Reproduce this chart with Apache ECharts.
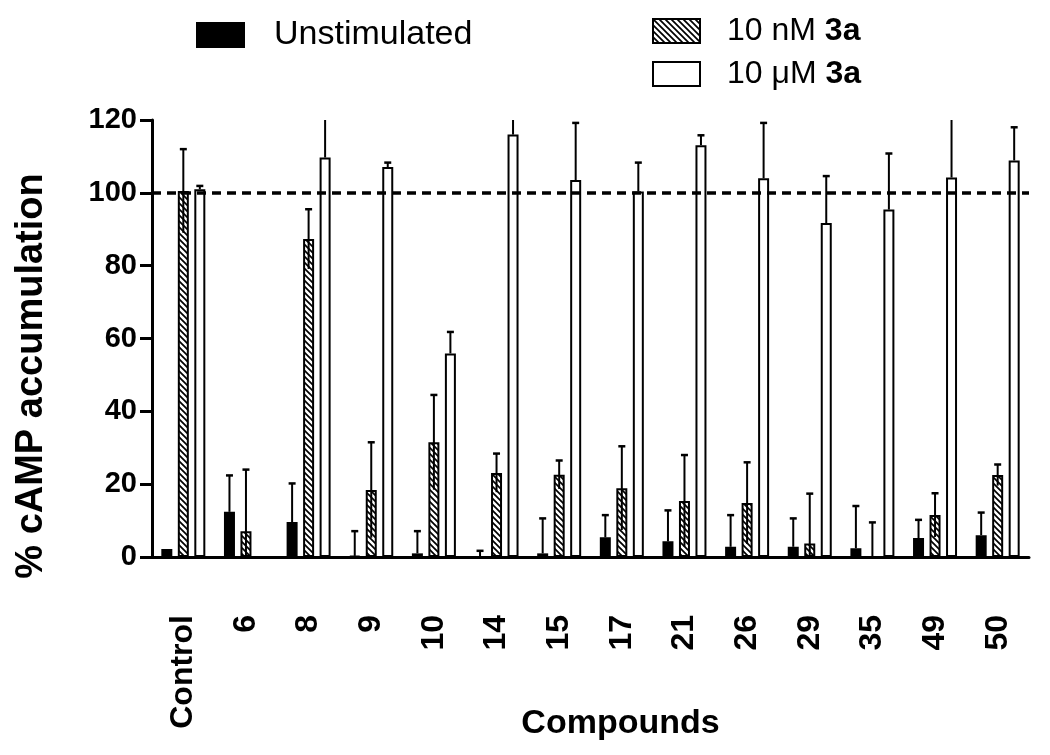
<!DOCTYPE html>
<html>
<head>
<meta charset="utf-8">
<script src="https://cdn.jsdelivr.net/npm/echarts@6/dist/echarts.min.js"></script>
<style>
html,body{margin:0;padding:0;background:#fff;}
#chart{width:1050px;height:755px;}
</style>
</head>
<body>
<div id="chart"></div>
<script>
// ---- data ----
const categories = ['Control','6','8','9','10','14','15','17','21','26','29','35','49','50'];
const unstimulated    = [2.2, 12.4, 9.6, 0.3, 1.0, 0, 1.0, 5.4, 4.3, 2.8, 2.8, 2.4, 5.2, 6.0];
const unstimulatedErr = [0, 10.0, 10.6, 6.8, 6.1, 1.7, 9.6, 6.1, 8.5, 8.7, 7.8, 11.6, 5.0, 6.2];
const nM10    = [100.5, 7.1, 87.3, 18.4, 31.5, 23.1, 22.6, 18.9, 15.4, 14.8, 3.7, 0, 11.5, 22.5];
const nM10Err = [11.5, 16.9, 8.2, 13.1, 13.0, 5.3, 3.9, 11.5, 12.6, 11.2, 13.7, 9.5, 6.0, 2.9];
const uM10    = [101.0, null, 109.7, 107.1, 55.9, 116.0, 103.5, 100.4, 113.1, 104.0, 91.7, 95.4, 104.2, 108.9];
const uM10Err = [0.9, null, 13, 1.2, 5.9, 9, 15.7, 7.9, 2.7, 15.2, 12.9, 15.4, 17, 9.1];
const referenceLevel = 100;
const yMin = 0, yMax = 120, yStep = 20;
const seriesNames = ['Unstimulated', '10 nM 3a', '10 μM 3a'];

// ---- hatch pattern ----
function hatch() {
  const s = 6;
  const c = document.createElement('canvas');
  c.width = s; c.height = s;
  const g = c.getContext('2d');
  g.fillStyle = '#fff'; g.fillRect(0, 0, s, s);
  g.strokeStyle = '#000'; g.lineWidth = 1.7;
  g.beginPath();
  g.moveTo(-s, 0); g.lineTo(s, 2 * s);
  g.moveTo(0, 0); g.lineTo(s, s);
  g.moveTo(0, -s); g.lineTo(2 * s, s);
  g.stroke();
  return { image: c, repeat: 'repeat' };
}

const FONT = 'Liberation Sans, Arial, Helvetica, sans-serif';
const BAR_W = 11, BAR_STEP = 16.5;

function errSeries(vals, errs, idx, both) {
  const data = [];
  vals.forEach((v, i) => { if (v !== null && errs[i]) data.push([i, v, errs[i]]); });
  return {
    type: 'custom', name: 'err' + idx, z: 5, clip: true, silent: true,
    data: data,
    renderItem: function (params, api) {
      const x = api.value(0), v = api.value(1), e = api.value(2);
      const top = api.coord([x, v + e]);
      const bot = api.coord([x, both ? v - e : v]);
      const cx = top[0] + (idx - 1) * BAR_STEP;
      return {
        type: 'group',
        children: [
          { type: 'line', shape: { x1: cx, y1: bot[1], x2: cx, y2: top[1] }, style: { stroke: '#000', lineWidth: 2 } },
          { type: 'line', shape: { x1: cx - 3.5, y1: top[1], x2: cx + 3.5, y2: top[1] }, style: { stroke: '#000', lineWidth: 2.5 } }
        ]
      };
    }
  };
}

function legendCfg(name, left, top, gap) {
  return {
    data: [{ name: name, icon: 'rect' }], left: left, top: top, padding: 0,
    itemWidth: 47, itemHeight: 24, itemGap: 0, selectedMode: false,
    formatter: function (n) {
      const m = n.match(/^(.*) (3a)$/);
      return m ? '{r|' + m[1] + ' }{b|' + m[2] + '}' : '{r|' + n + '}';
    },
    textStyle: {
      fontFamily: FONT, color: '#000', padding: [0, 0, 0, gap],
      rich: {
        r: { fontSize: name === 'Unstimulated' ? 34 : 32, fontFamily: FONT, color: '#000', lineHeight: 30 },
        b: { fontSize: 32, fontWeight: 'bold', fontFamily: FONT, color: '#000', lineHeight: 30 }
      }
    }
  };
}

const chart = echarts.init(document.getElementById('chart'));
chart.setOption({
  backgroundColor: '#fff',
  animation: false,
  legend: [
    legendCfg(seriesNames[0], 196, 18, 25),
    legendCfg(seriesNames[1], 652, 15, 22),
    legendCfg(seriesNames[2], 652, 58, 22)
  ],
  grid: { left: 152, right: 21, top: 120, bottom: 198, containLabel: false, outerBoundsMode: 'none' },
  xAxis: {
    type: 'category', data: categories,
    axisLine: { lineStyle: { color: '#000', width: 3 } },
    axisTick: { alignWithLabel: true, length: 12, lineStyle: { color: '#000', width: 3 } },
    axisLabel: { rotate: 90, margin: 58, color: '#000', fontSize: 32, fontWeight: 'bold', fontFamily: FONT, interval: 0 },
    name: 'Compounds', nameLocation: 'middle', nameGap: 150, nameMoveOverlap: false,
    nameTextStyle: { fontSize: 34, fontWeight: 'bold', color: '#000', fontFamily: FONT, padding: [0, 0, 0, 60] }
  },
  yAxis: {
    type: 'value', min: yMin, max: yMax, interval: yStep,
    axisLine: { show: true, lineStyle: { color: '#000', width: 3 } },
    axisTick: { show: true, length: 12, lineStyle: { color: '#000', width: 3 } },
    splitLine: { show: false },
    axisLabel: { margin: 15, color: '#000', fontSize: 29, fontWeight: 'bold', fontFamily: FONT },
    name: '% cAMP accumulation', nameLocation: 'middle', nameRotate: 90, nameGap: 101, nameMoveOverlap: false,
    nameTextStyle: { fontSize: 38, fontWeight: 'bold', color: '#000', fontFamily: FONT, padding: [0, 75, 0, 0] }
  },
  series: [
    {
      type: 'bar', name: seriesNames[0], data: unstimulated, barWidth: BAR_W, barGap: '50%',
      itemStyle: { color: '#000', borderColor: '#000', borderWidth: 2 }
    },
    {
      type: 'bar', name: seriesNames[1], data: nM10, barWidth: BAR_W, barGap: '50%',
      itemStyle: { color: hatch(), borderColor: '#000', borderWidth: 2 }
    },
    {
      type: 'bar', name: seriesNames[2], data: uM10, barWidth: BAR_W, barGap: '50%',
      itemStyle: { color: '#fff', borderColor: '#000', borderWidth: 2 }
    },
    errSeries(unstimulated, unstimulatedErr, 0, false),
    errSeries(nM10, nM10Err, 1, true),
    Object.assign(errSeries(uM10, uM10Err, 2, false), {
      markLine: {
        silent: true, symbol: 'none', z: 10,
        label: { show: false },
        lineStyle: { color: '#000', width: 3.5, type: [9, 6] },
        data: [{ yAxis: referenceLevel }]
      }
    })
  ]
});
</script>
</body>
</html>
